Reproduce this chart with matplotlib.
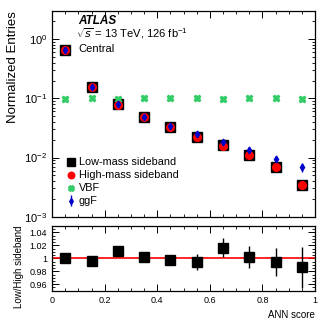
import numpy as np
import matplotlib
matplotlib.use('Agg')
import matplotlib.pyplot as plt
from matplotlib.ticker import MultipleLocator, LogLocator, NullFormatter

plt.rcParams['font.family'] = ['Liberation Sans', 'DejaVu Sans']
plt.rcParams['mathtext.fontset'] = 'custom'
plt.rcParams['mathtext.rm'] = 'Liberation Sans'

# bin centres of the ANN score
x = [0.05, 0.15, 0.25, 0.35, 0.45, 0.55, 0.65, 0.75, 0.85, 0.95]

low_mass = [0.66, 0.156, 0.079, 0.048, 0.0326, 0.022, 0.016, 0.0109, 0.0070, 0.0034]
high_mass = [0.66, 0.156, 0.078, 0.048, 0.0327, 0.0221, 0.0157, 0.0109, 0.0070, 0.0035]
vbf = [0.098, 0.100, 0.098, 0.100, 0.101, 0.100, 0.098, 0.100, 0.100, 0.099]
ggf = [0.66, 0.156, 0.080, 0.049, 0.034, 0.0245, 0.0186, 0.0134, 0.0096, 0.0068]
ggf_err = [0.01, 0.005, 0.003, 0.002, 0.0015, 0.0013, 0.0012, 0.0012, 0.0011, 0.0012]

ratio = [1.000, 0.9957, 1.011, 1.0026, 0.998, 0.9946, 1.0165, 1.0016, 0.994, 0.986]
ratio_err = [0.002, 0.002, 0.003, 0.006, 0.007, 0.012, 0.015, 0.017, 0.022, 0.032]

fig = plt.figure(figsize=(3.32, 3.19), dpi=100)
ax = fig.add_axes([0.157, 0.3207, 0.792, 0.645])
rax = fig.add_axes([0.157, 0.0887, 0.792, 0.203])

green = '#33cc66'
ax.plot(x, low_mass, 's', color='black', markersize=7, label='Low-mass sideband', zorder=3)
ax.plot(x, high_mass, 'o', color='red', markersize=5.5, label='High-mass sideband', zorder=4)
ax.plot(x, vbf, 'X', color=green, markersize=5, label='VBF', zorder=3)
ax.errorbar(x, ggf, yerr=ggf_err, fmt='d', color='#0000cc', markersize=3.5,
            elinewidth=1, capsize=0, label='ggF', zorder=5)

ax.set_yscale('log')
ax.set_xlim(0, 1)
ax.set_ylim(1e-3, 3)
ax.set_ylabel('Normalized Entries', fontsize=9.5, loc='top')
ax.xaxis.set_major_locator(MultipleLocator(0.2))
ax.xaxis.set_minor_locator(MultipleLocator(0.05))
ax.tick_params(labelbottom=False)
ax.yaxis.set_major_locator(LogLocator(base=10))
ax.yaxis.set_minor_locator(LogLocator(base=10, subs=np.arange(2, 10)))
ax.yaxis.set_minor_formatter(NullFormatter())
ax.tick_params(axis='y', labelsize=8)

ax.text(0.098, 0.95, 'ATLAS', transform=ax.transAxes, fontsize=8.5,
        fontweight='bold', fontstyle='italic', va='center')
ax.text(0.09, 0.888, r'$\sqrt{s}$ = 13 TeV, 126 fb$^{-1}$', transform=ax.transAxes,
        fontsize=8, va='center')
ax.text(0.098, 0.815, 'Central', transform=ax.transAxes, fontsize=8, va='center')

ax.legend(loc='upper left', bbox_to_anchor=(0.025, 0.32), frameon=False, fontsize=7.8,
          handlelength=1.0, handletextpad=0.25, labelspacing=0.28, borderaxespad=0.2,
          markerscale=0.85)

rax.errorbar(x, ratio, yerr=ratio_err, fmt='s', color='black', markersize=6.5,
             elinewidth=1, capsize=0, zorder=3)
rax.axhline(1, color='red', lw=1.2, zorder=2)
rax.set_xlim(0, 1)
rax.set_ylim(0.95, 1.05)
rax.xaxis.set_major_locator(MultipleLocator(0.2))
rax.xaxis.set_minor_locator(MultipleLocator(0.05))
rax.yaxis.set_major_locator(MultipleLocator(0.02))
rax.yaxis.set_minor_locator(MultipleLocator(0.005))
rax.set_yticks([0.96, 0.98, 1.0, 1.02, 1.04])
rax.set_yticklabels(['0.96', '0.98', '1', '1.02', '1.04'])
rax.tick_params(labelsize=6.5)
rax.set_xticks([0, 0.2, 0.4, 0.6, 0.8, 1.0])
rax.set_xticklabels(['0', '0.2', '0.4', '0.6', '0.8', '1'])
rax.set_xlabel('ANN score', fontsize=7, loc='right')
rax.set_ylabel('Low/High sideband', fontsize=7, loc='top')

for a in (ax, rax):
    a.tick_params(which='both', direction='in', top=True, right=True)
    a.tick_params(which='major', length=5, width=0.7)
    a.tick_params(which='minor', length=2.5, width=0.6)
    for s in a.spines.values():
        s.set_linewidth(0.9)

fig.savefig('out.png', dpi=100)
